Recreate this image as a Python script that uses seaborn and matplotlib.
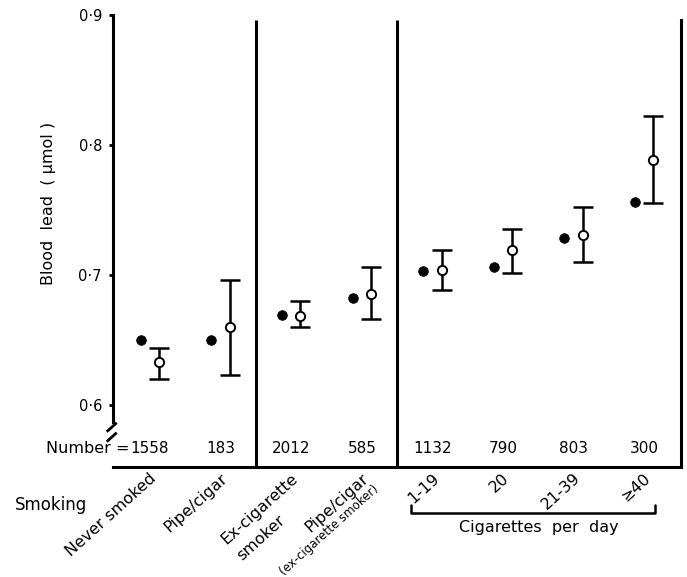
import numpy as np
import pandas as pd
import matplotlib
matplotlib.use('Agg')
import matplotlib.pyplot as plt
import seaborn as sns

sns.set_theme(style='white')
plt.rcParams['font.family'] = ['DejaVu Sans']
plt.rcParams['text.color'] = 'black'
plt.rcParams['axes.labelcolor'] = 'black'
plt.rcParams['ytick.color'] = 'black'

# groups (left to right)
group_labels = ['Never smoked', 'Pipe/cigar', 'Ex-cigarette', 'Pipe/cigar',
                '1-19', '20', '21-39', '\u226540']
numbers = [1558, 183, 2012, 585, 1132, 790, 803, 300]

# filled dots
observed = [0.650, 0.650, 0.669, 0.682, 0.703, 0.706, 0.728, 0.756]
# open circles with error bars
adjusted = [0.633, 0.660, 0.668, 0.685, 0.704, 0.719, 0.731, 0.788]
adj_low = [0.620, 0.623, 0.660, 0.666, 0.688, 0.701, 0.710, 0.755]
adj_high = [0.644, 0.696, 0.680, 0.706, 0.719, 0.735, 0.752, 0.822]

y_ticks = [0.6, 0.7, 0.8, 0.9]
y_tick_labels = ['0\u00b76', '0\u00b77', '0\u00b78', '0\u00b79']

df = pd.DataFrame({'group': np.arange(len(numbers)), 'observed': observed,
                   'adjusted': adjusted, 'low': adj_low, 'high': adj_high})
df['x_obs'] = df['group'] - 0.13
df['x_adj'] = df['group'] + 0.13

fig = plt.figure(figsize=(6.87, 5.77), dpi=100)
ax = fig.add_axes([113 / 687, 1 - 467 / 577, 568 / 687, 452 / 577])

ymin, ymax = 0.552, 0.9
xmin, xmax = -0.524, 7.52

# error bars first, then markers on top
ax.errorbar(df['x_adj'], df['adjusted'],
            yerr=[df['adjusted'] - df['low'], df['high'] - df['adjusted']],
            fmt='none', ecolor='black', elinewidth=1.8, capsize=7, capthick=1.8, zorder=3)
sns.scatterplot(data=df, x='x_obs', y='observed', color='black', edgecolor='black',
                s=48, ax=ax, zorder=4, legend=False)
sns.scatterplot(data=df, x='x_adj', y='adjusted', color='white', edgecolor='black',
                linewidth=1.4, s=44, ax=ax, zorder=5, legend=False)

ax.set_xlim(xmin, xmax)
ax.set_ylim(ymin, ymax)

# section dividers
ax.vlines([1.5, 3.5], ymin, 0.896, color='black', lw=2.2)

ax.spines['top'].set_visible(False)
for s in ['left', 'bottom', 'right']:
    ax.spines[s].set_color('black')
    ax.spines[s].set_linewidth(2.2)
ax.spines['left'].set_bounds(0.587, ymax)
ax.spines['right'].set_bounds(ymin, 0.896)

ax.set_xticks([])
ax.set_xlabel('')
ax.set_yticks(y_ticks)
ax.set_yticklabels(y_tick_labels, fontsize=10.5)
ax.tick_params(axis='y', direction='out', length=3, width=2, pad=5, color='black',
               labelcolor='black', left=True)

ax.set_ylabel('Blood  lead  ( \u00b5mol )', fontsize=11.5)
ax.yaxis.set_label_coords(-0.1, 0.584)

# axis break marks
for y0 in [0.078, 0.056]:
    ax.plot([-0.011, 0.0065], [y0, y0 + 0.02], transform=ax.transAxes, color='black',
            lw=2, clip_on=False, solid_capstyle='butt')

# sample numbers
xt = ax.get_xaxis_transform()
for i, n in enumerate(numbers):
    ax.text(i, 0.042, str(n), transform=xt, ha='center', va='center', fontsize=11)
ax.text(-0.29, 0.042, 'Number =', transform=xt, ha='right', va='center', fontsize=11.5)

# rotated group labels
for i, lab in enumerate(group_labels):
    ax.annotate(lab, xy=(i, 0), xycoords=xt, xytext=(-0.5, -2.5), textcoords='offset points',
                rotation=42, rotation_mode='anchor', ha='right', va='top', fontsize=11.5)
ax.annotate('smoker', xy=(2, 0), xycoords=xt, xytext=(-9.5, -33), textcoords='offset points',
            rotation=42, rotation_mode='anchor', ha='right', va='top', fontsize=11.5)
ax.annotate('(ex-cigarette smoker)', xy=(3, 0), xycoords=xt, xytext=(8, -11),
            textcoords='offset points', rotation=42, rotation_mode='anchor',
            ha='right', va='top', fontsize=8.5)

fig.text(15 / 687, 1 - 505 / 577, 'Smoking', ha='left', va='center', fontsize=12)

# cigarettes per day bracket
ax.plot([3.7, 3.7, 7.15, 7.15], [-0.084, -0.102, -0.102, -0.084], transform=xt,
        color='black', lw=1.8, clip_on=False)
ax.text(5.5, -0.133, 'Cigarettes  per  day', transform=xt, ha='center', va='center',
        fontsize=11.5)

fig.savefig('out.png', dpi=100, facecolor='white')
